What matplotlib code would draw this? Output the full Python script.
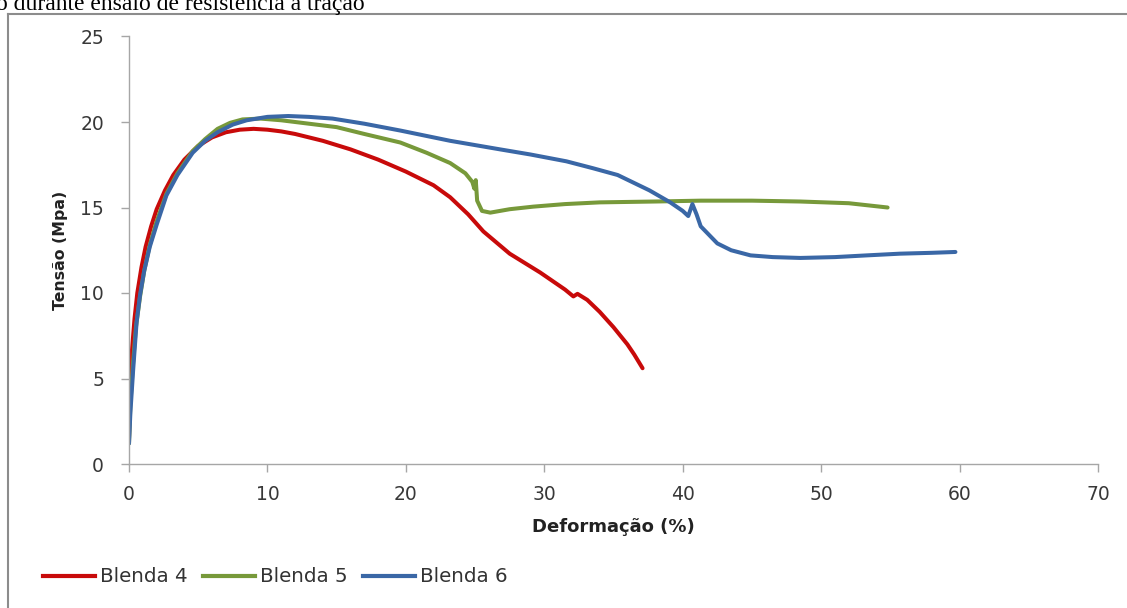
import matplotlib
matplotlib.use("Agg")
import matplotlib.pyplot as plt
from matplotlib.lines import Line2D

# ---------------- data ----------------
b4_x = [0, 0.05, 0.2, 0.4, 0.6, 0.9, 1.2, 1.6, 2.0, 2.6, 3.2, 4.0, 5.0, 6.0, 7.0, 8.0, 9.0,
        10.0, 11.0, 12.0, 14.0, 16.0, 18.0, 20.0, 22.0, 23.2, 24.5, 25.6, 27.5, 29.7, 31.5,
        32.1, 32.4, 33.1, 34.0, 35.0, 36.0, 36.5, 37.1]
b4_y = [1.5, 4.0, 6.5, 8.5, 10.0, 11.5, 12.7, 13.9, 14.9, 16.0, 16.9, 17.8, 18.6, 19.1, 19.4,
        19.55, 19.6, 19.55, 19.45, 19.3, 18.9, 18.4, 17.8, 17.1, 16.3, 15.6, 14.6, 13.6, 12.3,
        11.2, 10.2, 9.8, 9.95, 9.6, 8.9, 8.0, 7.0, 6.4, 5.6]

b5_x = [0, 0.1, 0.3, 0.5, 0.8, 1.1, 1.5, 2.0, 2.7, 3.5, 4.6, 5.5, 6.4, 7.3, 8.2, 9.5, 11, 13,
        15, 17, 19.6, 21.5, 23.2, 24.3, 24.8, 24.95, 25.05, 25.15, 25.5, 26.1, 27.5, 29.2, 31.5,
        34, 38, 41.3, 45, 48.5, 52, 54.8]
b5_y = [1.2, 3.5, 6.0, 8.0, 9.8, 11.3, 12.8, 14.2, 15.8, 17.0, 18.3, 19.0, 19.6, 19.95, 20.15,
        20.2, 20.1, 19.9, 19.7, 19.3, 18.8, 18.2, 17.6, 17.0, 16.5, 16.1, 16.6, 15.4, 14.8, 14.7,
        14.9, 15.05, 15.2, 15.3, 15.35, 15.4, 15.4, 15.35, 15.25, 15.0]

b6_x = [0, 0.1, 0.3, 0.55, 0.8, 1.1, 1.5, 2.0, 2.7, 3.5, 4.6, 5.5, 6.4, 7.5, 8.5, 10, 11.5, 13,
        14.7, 17, 19.6, 23.2, 26.8, 29, 31.6, 33.5, 35.3, 37.6, 39.1, 40.0, 40.4, 40.7, 41.0,
        41.3, 42.5, 43.5, 44.9, 46.5, 48.5, 51, 53.3, 55.7, 58, 59.7]
b6_y = [1.2, 3.0, 5.5, 8.3, 9.9, 11.3, 12.7, 14.0, 15.7, 16.9, 18.2, 18.9, 19.4, 19.85, 20.1,
        20.3, 20.35, 20.3, 20.2, 19.9, 19.5, 18.9, 18.4, 18.1, 17.7, 17.3, 16.9, 16.0, 15.3,
        14.8, 14.5, 15.2, 14.6, 13.9, 12.9, 12.5, 12.2, 12.1, 12.05, 12.1, 12.2, 12.3, 12.35, 12.4]

series_names = ["Blenda 4", "Blenda 5", "Blenda 6"]
series_colors = ["#C80A0A", "#77993A", "#3A67A6"]

x_ticks = [0, 10, 20, 30, 40, 50, 60, 70]
y_ticks = [0, 5, 10, 15, 20, 25]
x_label = "Deformação (%)"
y_label = "Tensão (Mpa)"
caption = "o durante ensaio de resistência à tração"

# ---------------- figure ----------------
W, H = 1127, 608
fig = plt.figure(figsize=(W / 100, H / 100), dpi=100)
fig.patch.set_facecolor("white")

ax = fig.add_axes([129 / W, 1 - 464 / H, (1098 - 129) / W, (464 - 36.5) / H])

font = ["DejaVu Sans"]
for xs, ys, c, n in zip([b4_x, b5_x, b6_x], [b4_y, b5_y, b6_y], series_colors, series_names):
    ax.plot(xs, ys, color=c, lw=2.9, label=n, solid_capstyle="round", solid_joinstyle="round")

ax.set_xlim(0, 70)
ax.set_ylim(0, 25)
ax.set_xticks(x_ticks)
ax.set_yticks(y_ticks)
for s in ["top", "right"]:
    ax.spines[s].set_visible(False)
for s in ["left", "bottom"]:
    ax.spines[s].set_color("#A6A6A6")
    ax.spines[s].set_linewidth(1.0)
ax.tick_params(axis="both", direction="out", length=6, width=1.0, color="#A6A6A6",
               labelcolor="#383838", labelsize=13.5)
ax.tick_params(axis="x", pad=9)
ax.tick_params(axis="y", pad=12)
for lab in ax.get_xticklabels() + ax.get_yticklabels():
    lab.set_family(font)

ax.set_xlabel(x_label, family=font, fontsize=13, fontweight="bold", color="#222222", labelpad=10)
ax.set_ylabel(y_label, family=font, fontsize=11.3, fontweight="bold", color="#222222", labelpad=9)

handles = [Line2D([0], [0], color=c, lw=3) for c in series_colors]
leg = fig.legend(handles, series_names, loc="center left", bbox_to_anchor=(43 / W, 1 - 577 / H),
                 ncol=3, frameon=False, handlelength=2.6, handletextpad=0.25, columnspacing=0.8,
                 prop={"family": font, "size": 14.3}, borderaxespad=0, borderpad=0)
for t in leg.get_texts():
    t.set_color("#333333")

# caption fragment (cut off at top, as in the source) and frame
fig.text(-4 / W, 1 - 10 / H, caption, family=["Liberation Serif", "DejaVu Serif"], fontsize=17,
         color="#000000", ha="left", va="baseline")
frame_color = "#8C8C8C"
fig.add_artist(Line2D([8 / W, 8 / W], [0, 1 - 13.5 / H], transform=fig.transFigure,
                      color=frame_color, lw=1.5))
fig.add_artist(Line2D([8 / W, 1], [1 - 13.5 / H, 1 - 13.5 / H], transform=fig.transFigure,
                      color=frame_color, lw=1.5))

fig.savefig("out.png", dpi=100)
